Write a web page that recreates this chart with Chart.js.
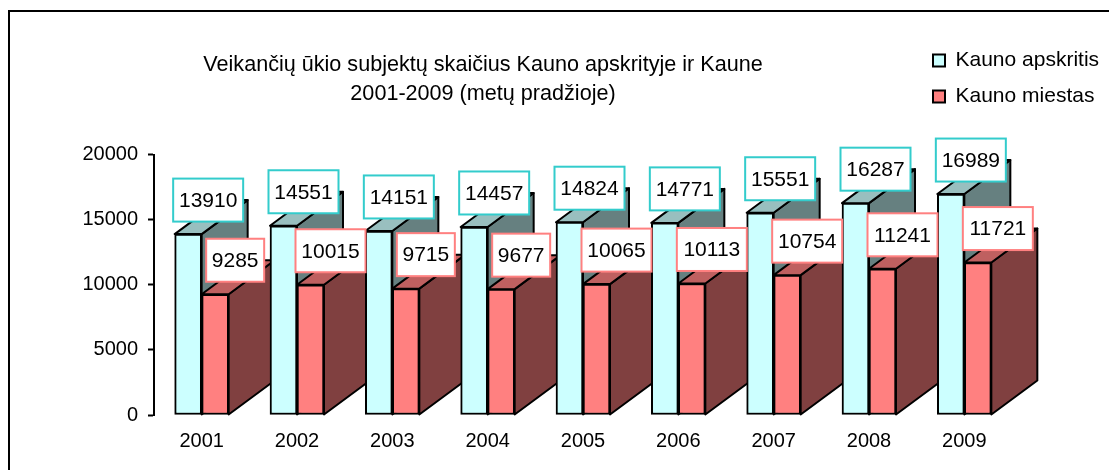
<!DOCTYPE html>
<html><head><meta charset="utf-8">
<style>html,body{margin:0;padding:0;background:#fff}#w{position:relative;width:1109px;height:470px}</style>
<script src="https://cdn.jsdelivr.net/npm/chart.js@4"></script>
</head><body><div id="w"><canvas id="c" width="1109" height="470"></canvas></div>
<script>
const categories = ["2001","2002","2003","2004","2005","2006","2007","2008","2009"];
const apskritis = [13910,14551,14151,14457,14824,14771,15551,16287,16989];
const miestas = [9285,10015,9715,9677,10065,10113,10754,11241,11721];
const seriesNames = ["Kauno apskritis","Kauno miestas"];
const titleLines = ["Veikančių ūkio subjektų skaičius Kauno apskrityje ir Kaune","2001-2009 (metų pradžioje)"];
const yTicks = [0,5000,10000,15000,20000];
const FONT = '"Liberation Sans", Arial, sans-serif';
const DX = 46, DY = -34;
const sideCol = ["#668080","#804040"], topCol = ["#99BFBF","#BF6060"];
const boxCol = ["#33CCCC","#FF8080"];

function poly(ctx, pts, fill){
  ctx.beginPath(); pts.forEach((p,i)=> i?ctx.lineTo(p[0],p[1]):ctx.moveTo(p[0],p[1])); ctx.closePath();
  ctx.fillStyle=fill; ctx.fill(); ctx.lineWidth=2; ctx.strokeStyle="#000"; ctx.lineJoin="round"; ctx.stroke();
}
const plugin = {
  id:"bars3d",
  beforeDraw(chart){
    const c=chart.ctx; c.save(); c.strokeStyle="#000"; c.lineWidth=2;
    c.beginPath(); c.moveTo(9,470); c.lineTo(9,11); c.lineTo(1109,11); c.stroke(); c.restore();
  },
  afterLayout(chart){
    const t=chart.titleBlock, l=chart.legend;
    t.left=183; t.right=783; t.top=51; t.bottom=t.top+t.height; t.width=600;
    const w=l.width,h=l.height; l.left=918; l.right=918+w; l.top=35; l.bottom=35+h;
  },
  beforeDatasetsDraw(chart){
    const c=chart.ctx; c.save();
    const m0=chart.getDatasetMeta(0).data, m1=chart.getDatasetMeta(1).data;
    m0.forEach((_,i)=>{
      [m0[i],m1[i]].forEach((b,s)=>{
        const L=b.x-b.width/2,R=b.x+b.width/2,T=b.y,B=b.base;
        poly(c,[[R,T],[R+DX,T+DY],[R+DX,B+DY],[R,B]],sideCol[s]);
        poly(c,[[L,T],[L+DX,T+DY],[R+DX,T+DY],[R,T]],topCol[s]);
      });
    });
    c.restore();
  },
  afterDatasetsDraw(chart){
    const c=chart.ctx; c.save(); c.font="21px "+FONT; c.textAlign="center"; c.textBaseline="middle";
    [0,1].forEach(s=>{
      const vals=chart.data.datasets[s].data;
      chart.getDatasetMeta(s).data.forEach((b,i)=>{
        const txt=String(vals[i]);
        const w=txt.length>4?70:58, h=43, cx=b.x+20, bot=b.y-12.5;
        c.fillStyle="#fff"; c.fillRect(cx-w/2,bot-h,w,h);
        c.strokeStyle=boxCol[s]; c.lineWidth=2; c.strokeRect(cx-w/2,bot-h,w,h);
        c.fillStyle="#000"; c.fillText(txt,cx,bot-h/2+1);
      });
    });
    c.restore();
  }
};
new Chart(document.getElementById("c"),{
  type:"bar",
  data:{labels:categories,datasets:[
    {label:seriesNames[0],data:apskritis,backgroundColor:"#CCFFFF",borderColor:"#000",borderWidth:2,borderSkipped:false},
    {label:seriesNames[1],data:miestas,backgroundColor:"#FF8080",borderColor:"#000",borderWidth:2,borderSkipped:false}
  ]},
  options:{
    responsive:false,animation:false,
    layout:{padding:{left:0,right:97,top:0,bottom:3}},
    datasets:{bar:{categoryPercentage:1,barPercentage:1,barThickness:27}},
    plugins:{
      title:{display:true,text:titleLines,font:{family:FONT,size:21.6,weight:"normal",lineHeight:1.34},color:"#000",padding:{top:0,bottom:97}},
      legend:{position:"chartArea",align:"start",labels:{font:{family:FONT,size:21},color:"#000",boxWidth:12,boxHeight:12,padding:15}},
      tooltip:{enabled:false}
    },
    scales:{
      x:{grid:{display:false,drawTicks:false},border:{display:false},ticks:{color:"#000",font:{family:FONT,size:20},padding:14,maxRotation:0}},
      y:{min:0,max:20000,afterBuildTicks(a){a.ticks=yTicks.map(v=>({value:v}));},afterFit(a){a.width=154;},
         grid:{display:true,drawOnChartArea:false,drawTicks:true,tickLength:6,tickColor:"#000",tickWidth:2},
         border:{display:true,color:"#000",width:2},
         ticks:{color:"#000",font:{family:FONT,size:20},padding:10,callback:v=>String(v)}}
    }
  },
  plugins:[plugin]
});
</script></body></html>
